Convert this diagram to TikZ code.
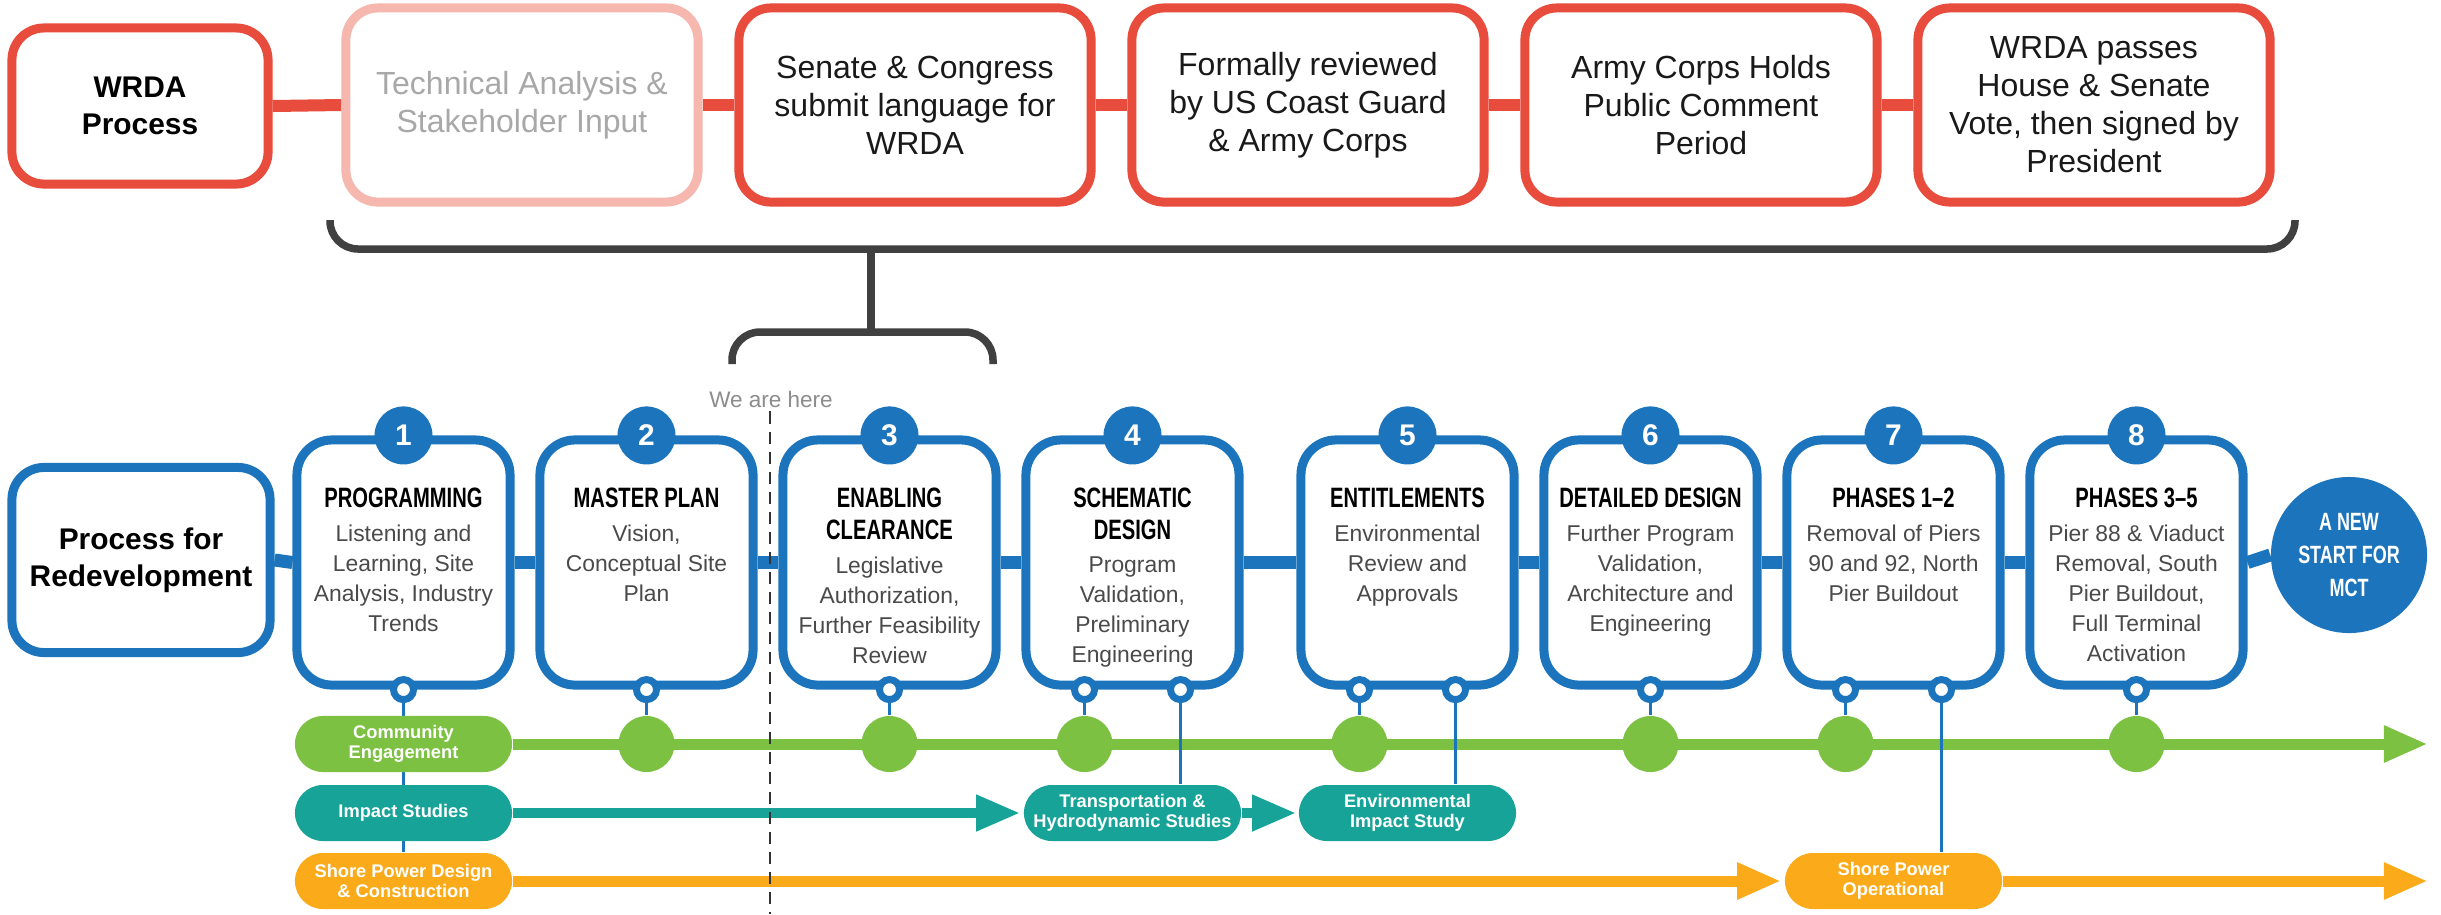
\documentclass[tikz,border=0pt]{standalone}
\usepackage{fontspec}
\setmainfont{Liberation Sans}
\newfontfamily\condfont[FakeStretch=0.72]{Liberation Sans}
\usetikzlibrary{arrows.meta,calc}
\definecolor{wred}{HTML}{E84C3D}
\definecolor{wpink}{HTML}{F5B7AE}
\definecolor{tgray}{HTML}{A8A8A8}
\definecolor{bblue}{HTML}{1C75BC}
\definecolor{ggreen}{HTML}{7DC143}
\definecolor{tteal}{HTML}{17A398}
\definecolor{oorange}{HTML}{FBAA1A}
\definecolor{brk}{HTML}{404040}
\definecolor{bodygray}{HTML}{4A4A4A}
\pgfdeclarelayer{bg}
\pgfdeclarelayer{paper}
\pgfsetlayers{paper,bg,main}
\begin{document}
\begin{tikzpicture}[x=0.01cm,y=-0.01cm,
  redbox/.style={draw=wred, line width=0.09cm, rounded corners=0.32cm, fill=white,
    minimum width=3.52cm, minimum height=1.94cm, inner sep=0pt, align=center,
    font=\fontsize{9.1pt}{10.8pt}\selectfont, text=black!90},
  labbox/.style={line width=0.09cm, rounded corners=0.32cm, fill=white, inner sep=0pt,
    align=center, font=\fontsize{8.5pt}{10.6pt}\selectfont\bfseries},
  rconn/.style={wred, line width=0.12cm},
  bconn/.style={bblue, line width=0.13cm},
  stepbox/.style={draw=bblue, line width=0.09cm, rounded corners=0.35cm, fill=white,
    minimum width=2.13cm, minimum height=2.45cm, inner sep=0pt},
  numc/.style={circle, fill=bblue, minimum size=0.58cm, inner sep=0pt, text=white,
    font=\fontsize{8.5pt}{9pt}\selectfont\bfseries},
  botc/.style={circle, draw=bblue, line width=0.07cm, fill=white, minimum size=0.2cm, inner sep=0pt},
  ttl/.style={align=center, inner sep=0pt, text=black,
    font=\fontsize{7.97pt}{9.1pt}\selectfont\condfont\bfseries},
  bdy/.style={align=center, inner sep=0pt, anchor=north, text=bodygray,
    font=\fontsize{6.5pt}{8.54pt}\selectfont},
  pill/.style={rounded corners=0.28cm, minimum width=2.17cm, minimum height=0.56cm,
    inner sep=0pt, align=center, text=white,
    font=\fontsize{5.2pt}{5.7pt}\selectfont\bfseries},
  gdot/.style={circle, fill=ggreen, minimum size=0.56cm, inner sep=0pt},
  gline/.style={ggreen, line width=0.11cm},
  tline/.style={tteal, line width=0.10cm},
  oline/.style={oorange, line width=0.11cm},
  tip/.style={-{Triangle[length=0.44cm,width=0.34cm]}},
  thinb/.style={bblue, line width=0.035cm},
  brkline/.style={brk, line width=0.075cm, rounded corners=0.28cm},
  dashline/.style={black!80, line width=0.025cm, dash pattern=on 0.12cm off 0.08cm}
]
\useasboundingbox (0,0) rectangle (2441,914);
\begin{pgfonlayer}{paper}
\fill[white] (0,0) rectangle (2441,914);
\end{pgfonlayer}

% ---------- top row ----------
\node[labbox, draw=wred, minimum width=2.56cm, minimum height=1.56cm] (wr) at (140,106) {WRDA\\Process};
\node[redbox, draw=wpink, text=tgray] (ta) at (522,105) {Technical Analysis \&\\Stakeholder Input};
\node[redbox] (sc) at (915,105) {Senate \& Congress\\submit language for\\WRDA};
\node[redbox] (fr) at (1308,105) {Formally reviewed\\by US Coast Guard\\\& Army Corps};
\node[redbox] (ac) at (1701,105) {Army Corps Holds\\Public Comment\\Period};
\node[redbox] (wp) at (2094,105) {WRDA passes\\House \& Senate\\Vote, then signed by\\President};
\begin{pgfonlayer}{bg}
\draw[rconn] (wr.east) -- (ta.west);
\draw[rconn] (ta.east) -- (sc.west);
\draw[rconn] (sc.east) -- (fr.west);
\draw[rconn] (fr.east) -- (ac.west);
\draw[rconn] (ac.east) -- (wp.west);
\end{pgfonlayer}

% ---------- brackets ----------
\coordinate (bl) at (330,220);
\coordinate (br) at (2295,220);
\coordinate (stemtop) at (871,249);
\coordinate (stembot) at (871,332);
\draw[brkline] (bl) -- (330,249) -- (2295,249) -- (br);
\draw[brk, line width=0.075cm] (stemtop) -- (stembot);
\draw[brkline] (732,364) -- (732,332) -- (993,332) -- (993,364);

% ---------- process row ----------
\node[labbox, draw=bblue, minimum width=2.58cm, minimum height=1.85cm] (pr) at (141,560) {Process for\\Redevelopment};

\foreach \i/\x in {1/403.5,2/646.5,3/889.5,4/1132.5,5/1407.5,6/1650.5,7/1893.5,8/2136.5}{
  \node[stepbox] (b\i) at (\x,562.5) {};
  \node[numc] (n\i) at (b\i.north) {\i};
}
\node[circle, fill=bblue, minimum size=1.56cm, inner sep=0pt, align=center, text=white,
  font=\fontsize{7.1pt}{9.4pt}\selectfont\condfont\bfseries] (mct) at (2349,555) {A NEW\\START FOR\\MCT};

\begin{pgfonlayer}{bg}
\draw[bconn] (pr.east) -- (b1.west);
\draw[bconn] (b1.east) -- (b2.west);
\draw[bconn] (b2.east) -- (b3.west);
\draw[bconn] (b3.east) -- (b4.west);
\draw[bconn] (b4.east) -- (b5.west);
\draw[bconn] (b5.east) -- (b6.west);
\draw[bconn] (b6.east) -- (b7.west);
\draw[bconn] (b7.east) -- (b8.west);
\draw[bconn] (b8.east) -- (mct.west);
\end{pgfonlayer}

% titles
\node[ttl] (t1) at (403.5,498) {PROGRAMMING};
\node[ttl] (t2) at (646.5,498) {MASTER PLAN};
\node[ttl] (t3) at (889.5,514) {ENABLING\\CLEARANCE};
\node[ttl] (t4) at (1132.5,514) {SCHEMATIC\\DESIGN};
\node[ttl] (t5) at (1407.5,498) {ENTITLEMENTS};
\node[ttl] (t6) at (1650.5,498) {DETAILED DESIGN};
\node[ttl] (t7) at (1893.5,498) {PHASES 1–2};
\node[ttl] (t8) at (2136.5,498) {PHASES 3–5};
% bodies
\node[bdy] (d1) at (403.5,524) {Listening and\\Learning, Site\\Analysis, Industry\\Trends};
\node[bdy] (d2) at (646.5,524) {Vision,\\Conceptual Site\\Plan};
\node[bdy] (d3) at (889.5,556) {Legislative\\Authorization,\\Further Feasibility\\Review};
\node[bdy] (d4) at (1132.5,556) {Program\\Validation,\\Preliminary\\Engineering};
\node[bdy] (d5) at (1407.5,524) {Environmental\\Review and\\Approvals};
\node[bdy] (d6) at (1650.5,524) {Further Program\\Validation,\\Architecture and\\Engineering};
\node[bdy] (d7) at (1893.5,524) {Removal of Piers\\90 and 92, North\\Pier Buildout};
\node[bdy] (d8) at (2136.5,524) {Pier 88 \& Viaduct\\Removal, South\\Pier Buildout,\\Full Terminal\\Activation};

% bottom circles
\node[botc] (c1) at (b1.south) {};
\node[botc] (c2) at (b2.south) {};
\node[botc] (c3) at (b3.south) {};
\node[botc] (c4) at ($(b4.south)+(-48,0)$) {};
\node[botc] (c4b) at ($(b4.south)+(48,0)$) {};
\node[botc] (c5) at ($(b5.south)+(-48,0)$) {};
\node[botc] (c5b) at ($(b5.south)+(48,0)$) {};
\node[botc] (c6) at (b6.south) {};
\node[botc] (c7) at ($(b7.south)+(-48,0)$) {};
\node[botc] (c7b) at ($(b7.south)+(48,0)$) {};
\node[botc] (c8) at (b8.south) {};

% ---------- tracks ----------
\node[pill, fill=ggreen] (ce) at (403.5,744) {Community\\Engagement};
\node[pill, fill=tteal] (is) at (403.5,813) {Impact Studies};
\node[pill, fill=oorange] (sd) at (403.5,881) {Shore Power Design\\\& Construction};
\node[pill, fill=tteal] (tr) at (1132.5,813) {Transportation \&\\Hydrodynamic Studies};
\node[pill, fill=tteal] (en) at (1407.5,813) {Environmental\\Impact Study};
\node[pill, fill=oorange] (so) at (1893.5,881) {Shore Power\\Operational};
\foreach \k in {2,3,4,5,6,7,8}{
  \node[gdot] (g\k) at (c\k |- ce) {};
}
\coordinate (gend) at (2428,744);
\coordinate (oend) at (2428,881);

\begin{pgfonlayer}{bg}
\draw[gline, tip] (ce.east) -- (gend);
\draw[tline, tip] (is.east) -- ($(tr.west)+(-3,0)$);
\draw[tline, tip] (tr.east) -- ($(en.west)+(-2,0)$);
\draw[oline, tip] (sd.east) -- ($(so.west)+(-3,0)$);
\draw[oline, tip] (so.east) -- (oend);
\draw[thinb] (c1.south) -- (c1.south |- sd.north);
\foreach \k in {2,3,4,5,6,7,8}{
  \draw[thinb] (c\k.south) -- (g\k.north);
}
\draw[thinb] (c4b.south) -- (c4b.south |- tr.north);
\draw[thinb] (c5b.south) -- (c5b.south |- en.north);
\draw[thinb] (c7b.south) -- (c7b.south |- so.north);
\end{pgfonlayer}

% ---------- we are here ----------
\node[text=black!45, font=\fontsize{6.4pt}{7pt}\selectfont, inner sep=1pt] (here) at (771,399) {We are here};
\coordinate (dbot) at (770,914);
\draw[dashline] (here.south -| dbot) -- (dbot);
\end{tikzpicture}
\end{document}
